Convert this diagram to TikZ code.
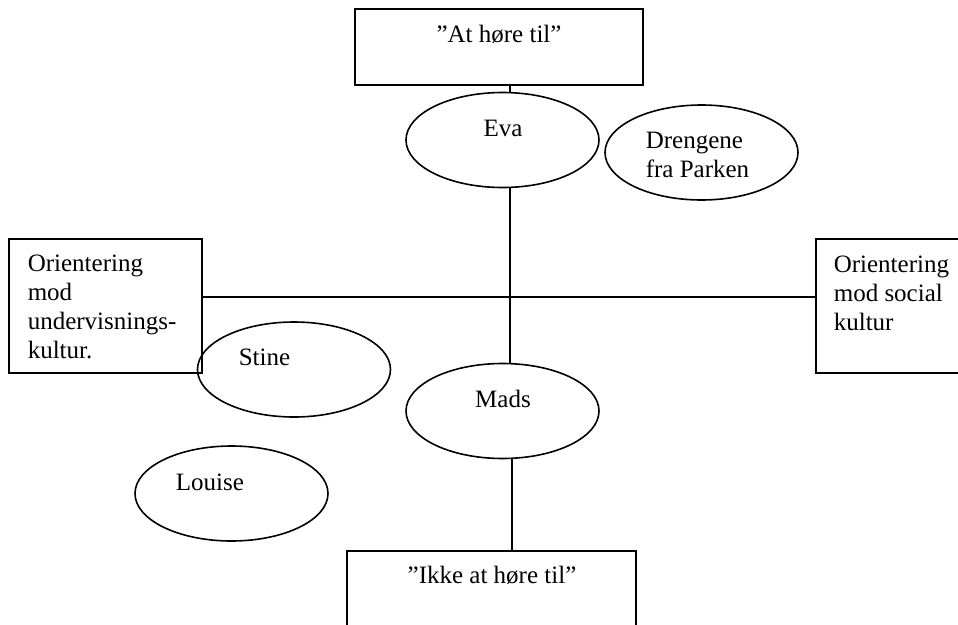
\documentclass[tikz,border=0pt]{standalone}
\usepackage{fontspec}
\setmainfont{Liberation Serif}
\usetikzlibrary{shapes.geometric}
\begin{document}
\begin{tikzpicture}[x=0.75pt,y=-0.75pt,line width=1.2pt,
  every node/.style={font=\fontsize{18.75}{21.75}\selectfont},
  oval/.style={draw,ellipse,inner sep=0pt,minimum width=144.75pt,minimum height=71.25pt},
  box/.style={draw,rectangle,inner sep=0pt},
  txt/.style={inner sep=0pt,align=left}]
\useasboundingbox (0,0) rectangle (958,625);
\begin{scope}
\clip (0,0) rectangle (958,625);
% the four boxes (right and bottom ones run off the page)
\node[box,minimum width=216pt,minimum height=57pt] (top) at (499,47) {};
\node[box,minimum width=144.75pt,minimum height=100.5pt] (left) at (105.5,306) {};
\node[box,minimum width=138pt,minimum height=100.5pt] (right) at (908,306) {};
\node[box,minimum width=216.75pt,minimum height=111.75pt] (bot) at (491.5,625.5) {};
% persons and groups
\node[oval] (eva) at (502.5,140) {};
\node[oval] (dreng) at (701.5,152.5) {};
\node[oval] (stine) at (294,369.5) {};
\node[oval] (mads) at (502.5,411) {};
\node[oval] (louise) at (231.5,493.5) {};
% axes of the diagram
\coordinate (axis) at (510,297);
\coordinate (axisb) at (512,297);
\draw (top.south -| axis) -- (eva.north -| axis);
\draw (eva.south -| axis) -- (mads.north -| axis);
\draw (left.east |- axis) -- (right.west |- axis);
\draw (mads.south -| axisb) -- (bot.north -| axisb);
% labels (multi-line ones are placed by the baseline of their last line)
\node[txt,anchor=base] (toptxt) at (499,42) {”At høre til”};
\node[txt,anchor=base] (evatxt) at (503,136) {Eva};
\node[txt,anchor=base west] (drengtxt) at (645,177) {Drengene\\fra Parken};
\node[txt,anchor=base west] (lefttxt) at (27,358) {Orientering\\mod\\undervisnings-\\kultur.};
\node[txt,anchor=base west] (righttxt) at (833,330) {Orientering\\mod social\\kultur};
\node[txt,anchor=base west] (stinetxt) at (238,365) {Stine};
\node[txt,anchor=base] (madstxt) at (503,407) {Mads};
\node[txt,anchor=base west] (louisetxt) at (175,490) {Louise};
\node[txt,anchor=base] (bottxt) at (492,583) {”Ikke at høre til”};
\end{scope}
\end{tikzpicture}
\end{document}
